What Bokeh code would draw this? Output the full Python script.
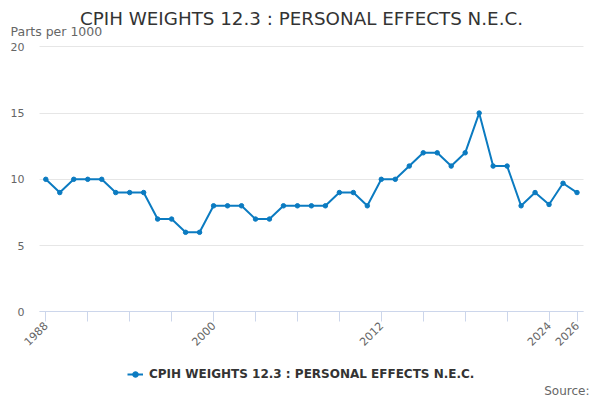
import math
from bokeh.plotting import figure
from bokeh.models import FixedTicker, Legend, LegendItem, Label, Range1d, Grid
from bokeh.embed import file_html
from bokeh.resources import INLINE

title_text = "CPIH WEIGHTS 12.3 : PERSONAL EFFECTS N.E.C."
unit_text = "Parts per 1000"
source_text = "Source:"
series_name = "CPIH WEIGHTS 12.3 : PERSONAL EFFECTS N.E.C."

years = list(range(1988, 2027))
values = [10, 9, 10, 10, 10, 9, 9, 9, 7, 7, 6, 6, 8, 8, 8, 7, 7, 8, 8, 8,
          8, 9, 9, 8, 10, 10, 11, 12, 12, 11, 12, 15, 11, 11, 8, 9, 8.1, 9.7, 9]

y_ticks = [0, 5, 10, 15, 20]
x_ticks = [1988, 1991, 1994, 1997, 2000, 2003, 2006, 2009, 2012, 2015, 2018, 2021, 2024, 2026]
x_labels = {1988: "1988", 2000: "2000", 2012: "2012", 2024: "2024", 2026: "2026"}

LINE = "#0b7bc1"
FONT = "DejaVu Sans"

# plot-area extent (data units) inside the full-canvas frame
X0, X1 = 1987.55, 2026.45
Y0, Y1 = 0, 20

p = figure(width=600, height=400, output_backend="svg", toolbar_location=None,
           x_range=Range1d(1984.76, 2027.68), y_range=Range1d(-6.694, 23.494),
           min_border_left=0, min_border_right=0, min_border_top=0, min_border_bottom=0)
p.outline_line_color = None
p.background_fill_color = "white"
p.border_fill_color = "white"

r_line = p.line(years, values, line_color=LINE, line_width=2)
r_pts = p.scatter(years, values, size=4.5, fill_color=LINE, line_color=LINE)

# y axis, fixed at the plot-area's left edge
p.yaxis.fixed_location = X0
p.yaxis.bounds = (Y0, Y1)
p.yaxis.ticker = FixedTicker(ticks=y_ticks)
p.yaxis.axis_line_color = None
p.yaxis.major_tick_line_color = None
p.yaxis.minor_tick_line_color = None
p.yaxis.major_tick_out = 0
p.yaxis.major_tick_in = 0
p.yaxis.major_label_standoff = 15
p.yaxis.major_label_text_font = FONT
p.yaxis.major_label_text_font_size = "11px"
p.yaxis.major_label_text_color = "#666666"

# x axis, fixed at y = 0
p.xaxis.fixed_location = Y0
p.xaxis.bounds = (X0, X1)
p.xaxis.ticker = FixedTicker(ticks=x_ticks)
p.xaxis.major_label_overrides = {t: x_labels.get(t, "") for t in x_ticks}
p.xaxis.axis_line_color = "#ccd6eb"
p.xaxis.major_tick_line_color = "#ccd6eb"
p.xaxis.minor_tick_line_color = None
p.xaxis.major_tick_out = 10
p.xaxis.major_tick_in = 0
p.xaxis.major_label_standoff = 2
p.xaxis.major_label_orientation = math.pi / 4
p.xaxis.major_label_text_font = FONT
p.xaxis.major_label_text_font_size = "11px"
p.xaxis.major_label_text_color = "#666666"

p.xgrid.grid_line_color = None
p.ygrid.ticker = FixedTicker(ticks=y_ticks)
p.ygrid.grid_line_color = "#e6e6e6"
p.ygrid.bounds = (Y0, Y1)
if "cross_bounds" in Grid.properties():
    p.ygrid.cross_bounds = (X0, X1)

legend = Legend(items=[LegendItem(label=series_name, renderers=[r_line, r_pts])],
                location=(127, 19), orientation="horizontal",
                padding=0, margin=0, spacing=0,
                glyph_width=16, glyph_height=14, label_height=14, label_standoff=6,
                label_text_font=FONT, label_text_font_size="12px",
                label_text_font_style="bold", label_text_color="#333333",
                background_fill_alpha=0, border_line_color=None)
p.add_layout(legend, "center")

p.add_layout(Label(x=301, y=18, x_units="canvas", y_units="canvas", text=title_text,
                   text_font=FONT, text_font_size="18.3px", text_color="#333333",
                   text_align="center", text_baseline="alphabetic"))
p.add_layout(Label(x=10, y=31, x_units="canvas", y_units="canvas", text=unit_text,
                   text_font=FONT, text_font_size="12.5px", text_color="#666666",
                   text_align="left", text_baseline="alphabetic"))
p.add_layout(Label(x=589, y=390, x_units="canvas", y_units="canvas", text=source_text,
                   text_font=FONT, text_font_size="12px", text_color="#666666",
                   text_align="right", text_baseline="alphabetic"))

open("out.html", "w").write(file_html(p, INLINE))
